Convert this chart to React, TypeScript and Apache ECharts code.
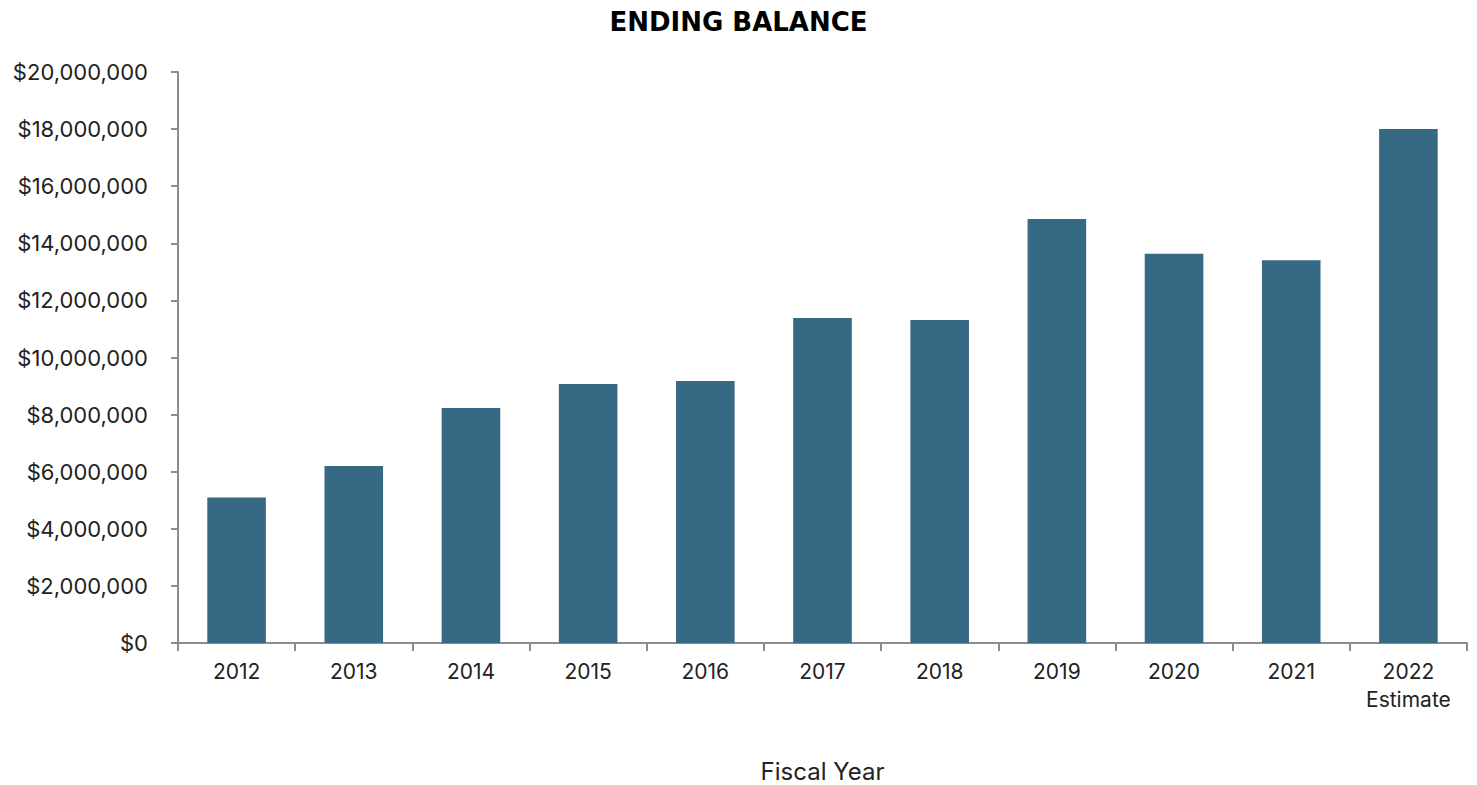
import React, { useEffect, useRef } from "react";
import * as echarts from "echarts";

const categories = ["2012", "2013", "2014", "2015", "2016", "2017", "2018", "2019", "2020", "2021", "2022"];
const categorySubLabels = ["", "", "", "", "", "", "", "", "", "", "Estimate"];
const endingBalance = [5100000, 6200000, 8230000, 9070000, 9180000, 11380000, 11310000, 14850000, 13630000, 13410000, 18000000];
const chartTitle = "ENDING BALANCE";
const xAxisTitle = "Fiscal Year";

const FONT = "Inter, 'Open Sans', sans-serif";

export default function App() {
  const ref = useRef<HTMLDivElement>(null);
  useEffect(() => {
    if (!ref.current) return;
    const chart = echarts.init(ref.current, undefined, { renderer: "svg" });
    chart.setOption({
      animation: false,
      title: {
        text: chartTitle,
        left: "center",
        top: 4,
        textStyle: { fontFamily: "'DejaVu Sans', sans-serif", fontWeight: "bold", fontSize: 26, color: "#000" },
      },
      grid: { left: 178, right: 10, top: 72, bottom: 142, containLabel: false, outerBoundsMode: "none" },
      xAxis: {
        type: "category",
        data: categories,
        name: xAxisTitle,
        nameLocation: "middle",
        nameGap: 116,
        nameTextStyle: { fontFamily: FONT, fontSize: 24, color: "#222" },
        axisLine: { lineStyle: { color: "#8c8c8c", width: 2 } },
        axisTick: { show: true, length: 8, alignWithLabel: false, lineStyle: { color: "#8c8c8c", width: 2 } },
        axisLabel: {
          interval: 0,
          margin: 16,
          fontFamily: FONT,
          fontSize: 21,
          color: "#222",
          lineHeight: 24,
          formatter: (v: string, i: number) =>
            categorySubLabels[i] ? `${v}\n{e|${categorySubLabels[i]}}` : v,
          rich: { e: { fontFamily: FONT, fontSize: 21, color: "#222", lineHeight: 32 } },
        },
      },
      yAxis: {
        type: "value",
        min: 0,
        max: 20000000,
        interval: 2000000,
        splitLine: { show: false },
        axisLine: { show: true, lineStyle: { color: "#8c8c8c", width: 2 } },
        axisTick: { show: true, length: 7, lineStyle: { color: "#8c8c8c", width: 2 } },
        axisLabel: {
          margin: 30,
          fontFamily: FONT,
          fontSize: 22,
          color: "#222",
          formatter: (v: number) => "$" + v.toLocaleString("en-US"),
        },
      },
      series: [
        {
          type: "bar",
          data: endingBalance,
          barWidth: "50%",
          itemStyle: { color: "#366984" },
        },
      ],
    });
    return () => chart.dispose();
  }, []);
  return <div ref={ref} style={{ position: "absolute", left: 0, top: 0, width: 1477, height: 785 }} />;
}
